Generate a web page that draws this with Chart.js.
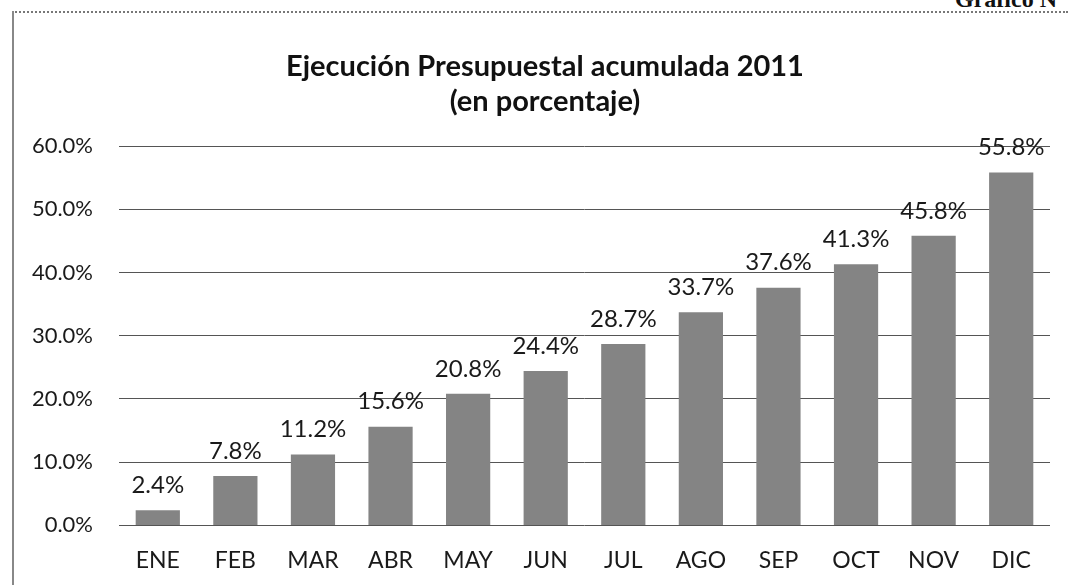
<!DOCTYPE html>
<html>
<head>
<meta charset="utf-8">
<script src="https://cdn.jsdelivr.net/npm/chart.js@4.4.1/dist/chart.umd.min.js"></script>
<style>
  html, body { margin: 0; padding: 0; background: #fff; overflow: hidden; }
  #wrap { position: relative; width: 1068px; height: 585px; overflow: hidden; }
  #topline { position: absolute; left: 12px; top: 11px; width: 1056px; height: 0; border-top: 2px dotted #777; }
  #leftline { position: absolute; left: 12px; top: 11px; width: 0; height: 574px; border-left: 2px solid #888; }
  #grafico { position: absolute; left: 955px; top: -14px; white-space: nowrap; font: bold 24px "Liberation Serif", serif; color: #111; }
  #c { position: absolute; left: 0; top: 0; }
</style>
</head>
<body>
<div id="wrap">
  <div id="topline"></div>
  <div id="leftline"></div>
  <div id="grafico">Gráfico N°</div>
  <canvas id="c" width="1068" height="607"></canvas>
</div>
<script>
let months = ['ENE', 'FEB', 'MAR', 'ABR', 'MAY', 'JUN', 'JUL', 'AGO', 'SEP', 'OCT', 'NOV', 'DIC'];
let ejecucion = [2.4, 7.8, 11.2, 15.6, 20.8, 24.4, 28.7, 33.7, 37.6, 41.3, 45.8, 55.8];
let yTicks = [0, 10, 20, 30, 40, 50, 60];
let titleLines = ['Ejecución Presupuestal acumulada 2011', '(en porcentaje)'];

const fontName = 'Lato, "Open Sans", sans-serif';

// title is drawn by hand so it can sit a bit left of the plot centre, like the original
const titleText = {
  id: 'titleText',
  afterDraw(chart) {
    const ctx = chart.ctx;
    ctx.save();
    ctx.font = 'bold 29px ' + fontName;
    ctx.fillStyle = '#111';
    ctx.textAlign = 'center';
    ctx.textBaseline = 'middle';
    titleLines.forEach(function(t, i) {
      ctx.fillText(t, 545, 67 + i * 35);
    });
    ctx.restore();
  }
};

// labels above each bar
const barLabels = {
  id: 'barLabels',
  afterDatasetsDraw(chart) {
    const ctx = chart.ctx;
    const meta = chart.getDatasetMeta(0);
    ctx.save();
    ctx.font = '24px ' + fontName;
    ctx.fillStyle = '#1a1a1a';
    ctx.textAlign = 'center';
    ctx.textBaseline = 'bottom';
    meta.data.forEach(function(bar, i) {
      ctx.fillText(ejecucion[i].toFixed(1) + '%', bar.x, bar.y - 13);
    });
    ctx.restore();
  }
};

new Chart('c', {
  type: 'bar',
  data: {
    labels: months,
    datasets: [{
      data: ejecucion,
      backgroundColor: '#848484',
      borderWidth: 0,
      barPercentage: 0.57,
      categoryPercentage: 1
    }]
  },
  options: {
    responsive: false,
    animation: false,
    layout: { padding: { left: 17, right: 18, top: 146, bottom: 12 } },
    plugins: {
      legend: { display: false },
      tooltip: { enabled: false },
      title: { display: false }
    },
    scales: {
      x: {
        grid: { display: false, drawTicks: false },
        border: { display: false },
        ticks: { color: '#1a1a1a', padding: 21, font: { family: fontName, size: 23 } }
      },
      y: {
        min: 0,
        max: 60,
        afterFit(scale) { scale.width = 102; },
        afterBuildTicks(scale) { scale.ticks = yTicks.map(v => ({ value: v })); },
        grid: { color: '#555', lineWidth: 1, drawTicks: false },
        border: { display: false },
        ticks: {
          color: '#1a1a1a',
          padding: 26,
          font: { family: fontName, size: 22 },
          callback: v => v.toFixed(1) + '%'
        }
      }
    }
  },
  plugins: [barLabels, titleText]
});
</script>
</body>
</html>
